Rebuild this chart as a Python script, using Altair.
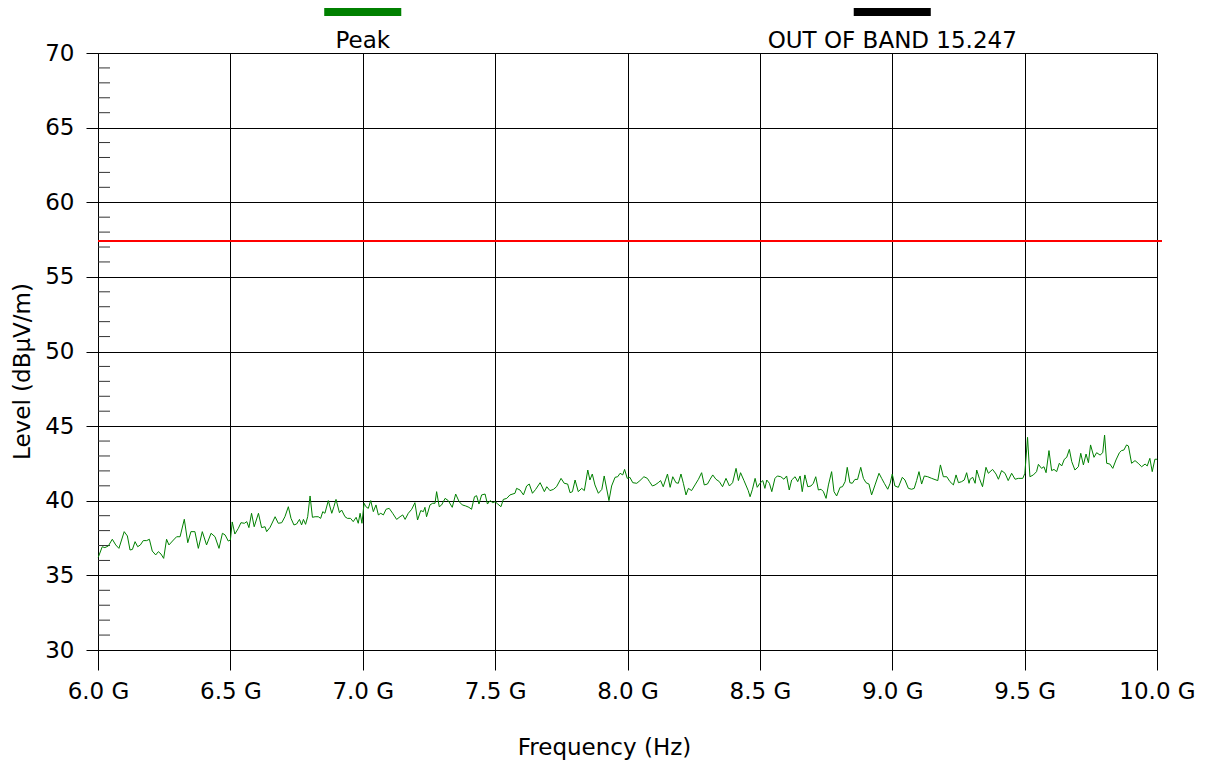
import altair as alt
import pandas as pd

# ---- data ----
freq_ghz = [
    6.001, 6.016, 6.026, 6.039, 6.054, 6.067, 6.079, 6.099, 6.111, 6.121,
    6.130, 6.140, 6.150, 6.160, 6.171, 6.184, 6.194, 6.205, 6.218, 6.228,
    6.238, 6.248, 6.259, 6.268, 6.285, 6.297, 6.310, 6.326, 6.339, 6.351,
    6.366, 6.379, 6.394, 6.410, 6.427, 6.442, 6.457, 6.470, 6.480, 6.492,
    6.500, 6.507, 6.517, 6.530, 6.540, 6.553, 6.562, 6.570, 6.580, 6.590,
    6.606, 6.618, 6.631, 6.637,
    6.650, 6.669, 6.681, 6.694, 6.706, 6.719, 6.729, 6.740, 6.750, 6.761,
    6.769, 6.776, 6.784, 6.792, 6.801, 6.810, 6.820, 6.832, 6.841, 6.849,
    6.857, 6.870, 6.883, 6.891, 6.899, 6.912, 6.920, 6.933, 6.942, 6.954,
    6.964, 6.975, 6.983, 6.990, 6.997, 7.005, 7.012, 7.021, 7.030, 7.040,
    7.050, 7.059, 7.068, 7.078, 7.088, 7.100, 7.113, 7.128, 7.141, 7.151,
    7.160, 7.172, 7.185, 7.197, 7.207, 7.219, 7.229, 7.235, 7.241, 7.254,
    7.264, 7.273, 7.279, 7.289, 7.298,
    7.311, 7.323, 7.338, 7.351, 7.364, 7.376, 7.389, 7.401, 7.411, 7.422,
    7.430, 7.439, 7.449, 7.462, 7.471, 7.481, 7.491, 7.500, 7.510, 7.522,
    7.531, 7.544, 7.556, 7.575, 7.581, 7.594, 7.607, 7.619, 7.629, 7.641,
    7.653, 7.670, 7.686, 7.695, 7.707, 7.720, 7.732, 7.749, 7.761, 7.774,
    7.783, 7.792, 7.802, 7.814, 7.827, 7.837, 7.850, 7.858, 7.867, 7.877,
    7.890, 7.903, 7.912, 7.930, 7.940, 7.953, 7.963,
    7.972, 7.982, 7.989, 7.999, 8.009, 8.020, 8.035, 8.047, 8.062, 8.075,
    8.083, 8.094, 8.104, 8.116, 8.125, 8.135, 8.151, 8.161, 8.171, 8.183,
    8.192, 8.202, 8.211, 8.221, 8.230, 8.242, 8.255, 8.268, 8.280, 8.290,
    8.302, 8.312, 8.322, 8.334, 8.347, 8.359, 8.372, 8.385, 8.397, 8.410,
    8.419, 8.427, 8.440, 8.456, 8.463, 8.472, 8.482, 8.490, 8.500, 8.511,
    8.519, 8.526, 8.536, 8.545, 8.557, 8.566, 8.579, 8.591, 8.601, 8.611,
    8.620,
    8.633, 8.643, 8.652, 8.660, 8.670, 8.681, 8.693, 8.702, 8.711, 8.721,
    8.731, 8.740, 8.750, 8.759, 8.771, 8.780, 8.790, 8.803, 8.812, 8.822,
    8.830, 8.840, 8.849, 8.859, 8.869, 8.881, 8.891, 8.901, 8.912, 8.922,
    8.935, 8.950, 8.960, 8.970, 8.983, 8.992, 9.000, 9.010, 9.023, 9.038,
    9.048, 9.061, 9.073, 9.083, 9.092, 9.101, 9.111, 9.121, 9.134, 9.149,
    9.172, 9.182, 9.193, 9.206, 9.218, 9.231, 9.241, 9.250, 9.262, 9.272,
    9.281, 9.290,
    9.294, 9.304, 9.313, 9.319, 9.329, 9.341, 9.354, 9.363, 9.379, 9.392,
    9.401, 9.413, 9.426, 9.438, 9.451, 9.464, 9.476, 9.493, 9.501, 9.511,
    9.520, 9.533, 9.545, 9.552, 9.564, 9.573, 9.581, 9.592, 9.602, 9.611,
    9.621, 9.631, 9.640, 9.650, 9.659, 9.669, 9.678, 9.690, 9.703, 9.712,
    9.722, 9.732, 9.741, 9.749, 9.762, 9.772, 9.785, 9.795, 9.802, 9.810,
    9.822, 9.833, 9.845, 9.858, 9.866, 9.875, 9.885, 9.892, 9.904, 9.917,
    9.929, 9.942, 9.955, 9.963, 9.973, 9.982, 9.992, 10.000,
]
level_dbuv = [
    36.21, 36.92, 36.86, 36.97, 37.42, 37.04, 36.81, 37.93, 37.64, 36.70,
    36.74, 37.26, 36.92, 37.04, 37.33, 37.33, 37.42, 36.63, 36.37, 36.59,
    36.43, 36.14, 37.42, 37.04, 37.37, 37.59, 37.59, 38.76, 37.19, 37.93,
    37.93, 36.81, 37.93, 37.04, 37.82, 37.59, 36.81, 37.82, 37.71, 37.30,
    37.37, 38.58, 37.77, 38.15, 38.53, 38.49, 38.60, 38.20, 39.16, 38.26,
    39.16, 38.20, 38.26, 37.93,
    38.22, 38.93, 38.49, 38.53, 38.93, 39.60, 38.82, 38.38, 38.44, 38.75,
    38.38, 38.75, 38.42, 38.93, 40.32, 38.89, 38.93, 38.93, 38.82, 39.27,
    39.16, 40.01, 39.16, 39.60, 40.09, 39.20, 39.38, 38.93, 38.82, 38.82,
    38.60, 38.89, 38.49, 39.16, 38.49, 39.83, 39.60, 39.49, 40.01, 39.27,
    39.72, 39.05, 39.16, 39.05, 39.43, 39.49, 39.16, 38.75, 38.93, 39.05,
    38.75, 39.16, 39.43, 39.87, 38.71, 39.34, 39.27, 39.56, 38.93, 39.72,
    39.83, 39.83, 40.61, 39.60, 39.72,
    40.16, 40.01, 39.56, 40.45, 39.94, 39.72, 39.65, 39.56, 39.43, 40.27,
    40.34, 39.78, 40.39, 40.45, 39.78, 40.01, 39.87, 39.94, 39.78, 39.60,
    40.09, 40.16, 40.39, 40.50, 40.83, 40.72, 40.39, 40.99, 41.12, 40.50,
    40.76, 41.21, 40.61, 40.94, 40.68, 40.76, 40.94, 41.50, 41.17, 41.12,
    40.54, 40.61, 41.39, 40.61, 40.83, 40.68, 42.06, 41.39, 41.79, 41.06,
    40.50, 40.76, 41.66, 40.01, 40.99, 41.57, 41.61,
    41.84, 41.73, 42.10, 41.50, 41.57, 41.21, 41.17, 41.35, 41.61, 41.50,
    41.28, 40.99, 41.06, 41.21, 41.35, 40.94, 41.79, 40.90, 41.61, 41.21,
    41.17, 41.79, 41.17, 40.39, 40.83, 40.68, 41.06, 41.44, 41.88, 41.06,
    41.12, 41.44, 41.73, 41.44, 41.28, 40.94, 41.50, 40.99, 41.21, 42.17,
    41.35, 41.88, 41.35, 40.68, 40.27, 40.77, 41.50, 40.90, 41.17, 41.35,
    40.83, 41.39, 41.17, 40.61, 41.50, 41.66, 41.61, 41.44, 41.66, 40.72,
    41.39,
    41.61, 41.28, 41.66, 40.61, 41.73, 40.94, 40.99, 41.17, 41.61, 40.72,
    40.77, 40.61, 40.16, 41.06, 41.95, 40.61, 40.32, 40.90, 40.94, 41.28,
    42.24, 41.21, 41.17, 41.43, 41.43, 42.24, 41.50, 41.21, 41.12, 40.39,
    41.06, 41.84, 41.50, 41.17, 40.77, 41.17, 41.79, 40.99, 40.90, 41.57,
    41.39, 40.83, 40.77, 40.83, 41.35, 41.95, 41.12, 41.66, 41.61, 41.50,
    41.35, 42.40, 41.61, 41.61, 41.28, 41.06, 41.73, 41.21, 41.28, 41.39,
    41.88, 41.17,
    41.44, 41.57, 41.17, 42.06, 41.50, 40.94, 42.24, 41.84, 42.10, 41.79,
    41.44, 42.02, 41.84, 41.35, 41.84, 41.44, 41.50, 41.50, 41.84, 44.25,
    41.61, 41.73, 41.95, 42.44, 42.17, 42.28, 41.88, 43.36, 42.02, 42.10,
    41.95, 42.51, 42.33, 42.78, 42.91, 43.44, 42.62, 42.06, 42.28, 43.18,
    42.40, 43.13, 42.55, 43.74, 42.91, 43.22, 43.06, 43.22, 44.40, 42.51,
    42.46, 42.17, 42.73, 43.22, 43.36, 43.40, 43.74, 43.67, 42.51, 42.69,
    42.51, 42.28, 42.46, 42.33, 42.84, 41.95, 42.78, 42.78,
]
limit_level = 57.4
x_ticks = [6.0, 6.5, 7.0, 7.5, 8.0, 8.5, 9.0, 9.5, 10.0]
y_major = [30, 35, 40, 45, 50, 55, 60, 65, 70]
y_minor = [31, 32, 33, 34, 36, 37, 38, 39, 41, 42, 43, 44, 46, 47, 48, 49,
           51, 52, 53, 54, 56, 57, 58, 59, 61, 62, 63, 64, 66, 67, 68, 69]
legend_names = ["Peak", "OUT OF BAND 15.247"]
legend_freq = [7.0, 9.0]
legend_colors = ["#008000", "#000000"]

FONT = "DejaVu Sans"
FS = 23
trace_df = pd.DataFrame({"f": freq_ghz, "L": level_dbuv})
minor_df = pd.DataFrame({"L": y_minor})
legend_df = pd.DataFrame({"f": legend_freq, "name": legend_names, "c": legend_colors})

xscale = alt.Scale(domain=[6, 10], nice=False, zero=False)
yscale = alt.Scale(domain=[30, 70], nice=False, zero=False)

xaxis = alt.Axis(
    values=x_ticks, labelExpr="format(datum.value, '.1f') + ' G'",
    title="Frequency (Hz)", grid=True, gridColor="#000000", gridWidth=1, gridOpacity=1,
    tickColor="#000000", tickSize=20, tickWidth=1, domainColor="#000000", domainWidth=1,
    labelFont=FONT, labelFontSize=FS, labelColor="#000000", labelPadding=10,
    labelFlush=False, labelOverlap=False,
    titleFont=FONT, titleFontSize=FS, titleFontWeight="normal", titleColor="#000000",
    titlePadding=33, titleX=506,
)
yaxis = alt.Axis(
    values=y_major, title="Level (dBµV/m)", grid=True, gridColor="#000000", gridWidth=1,
    gridOpacity=1, tickColor="#000000", tickSize=12, tickWidth=1, domainColor="#000000",
    domainWidth=1, labelFont=FONT, labelFontSize=FS, labelColor="#000000", labelPadding=12,
    labelFlush=False, labelOverlap=False,
    titleFont=FONT, titleFontSize=FS, titleFontWeight="normal", titleColor="#000000",
    titlePadding=10, titleY=318,
)

trace = alt.Chart(trace_df).mark_line(color="#008000", strokeWidth=1).encode(
    x=alt.X("f:Q", scale=xscale, axis=xaxis),
    y=alt.Y("L:Q", scale=yscale, axis=yaxis),
)

limit = alt.Chart(trace_df).mark_rule(color="#ff0000", strokeWidth=2).encode(
    y=alt.datum(limit_level),
    x=alt.value(0),
    x2=alt.value(1064),
)

minor = alt.Chart(minor_df).mark_rule(color="#333333", strokeWidth=1).encode(
    y=alt.Y("L:Q", scale=yscale),
    x=alt.value(0),
    x2=alt.value(12),
)

legend_bar = alt.Chart(legend_df).transform_calculate(
    x0="datum.f - 0.1455", x1="datum.f + 0.1455"
).mark_rect().encode(
    x=alt.X("x0:Q", scale=xscale),
    x2="x1:Q",
    y=alt.value(-45),
    y2=alt.value(-37),
    color=alt.Color("c:N", scale=None),
)

legend_text = alt.Chart(legend_df).mark_text(
    font=FONT, fontSize=FS, color="#000000",
    align="center", baseline="alphabetic",
).encode(
    x=alt.X("f:Q", scale=xscale),
    y=alt.value(-5),
    text="name:N",
)

chart = alt.layer(minor, trace, limit, legend_bar, legend_text).properties(
    width=1059, height=597,
    autosize=alt.AutoSizeParams(type="none"),
    padding={"left": 90, "top": 45, "right": 42, "bottom": 112},
    background="#ffffff",
).configure_view(stroke=None)

chart.save("out.html", embed_options={"renderer": "svg", "actions": False})
